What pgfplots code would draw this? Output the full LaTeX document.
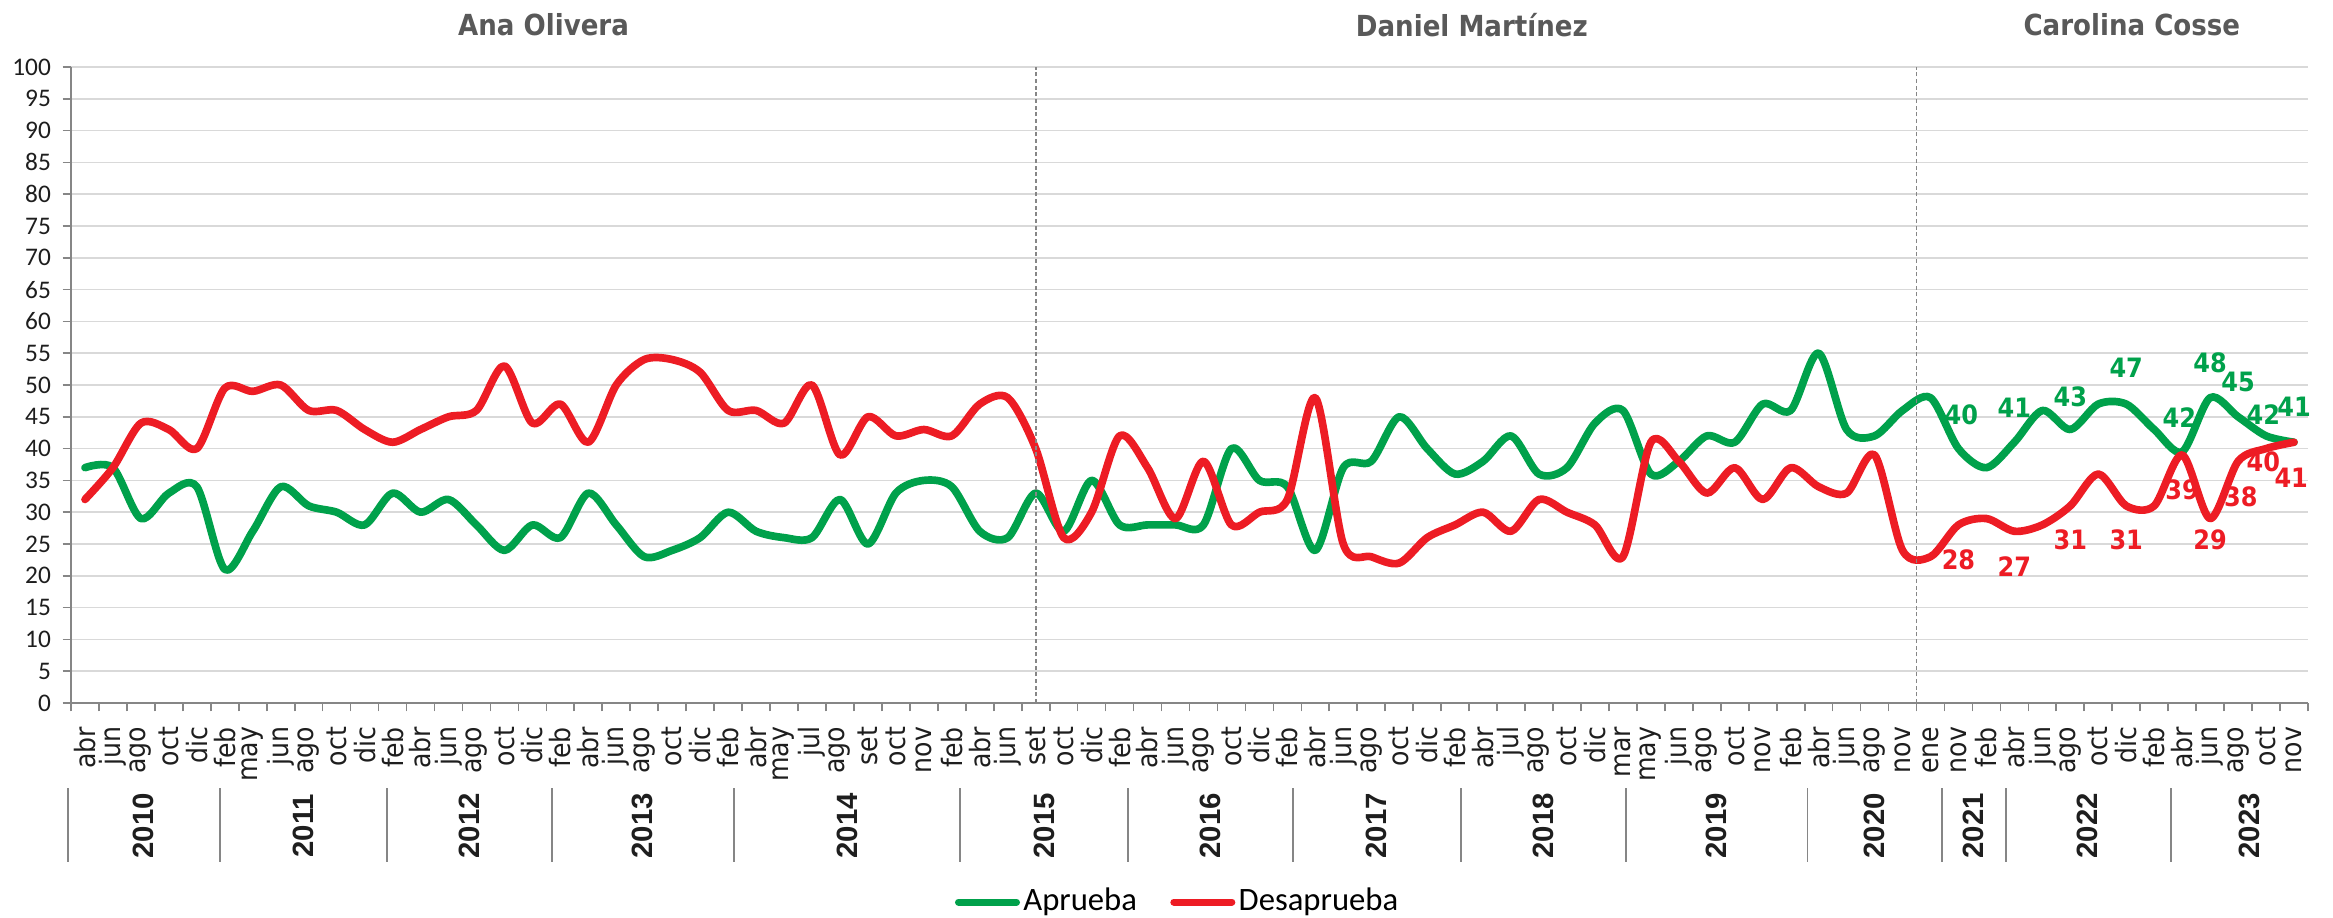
\documentclass[border=0pt]{standalone}
\usepackage{pgfplots}
\usepackage{pgfplotstable}
\pgfplotsset{compat=1.18}
\usepackage{fontspec}
\setmainfont{DejaVu Sans}
\newfontfamily\carlito{Carlito}
\newfontfamily\libsans{Liberation Sans}
\newfontfamily\tah[FakeStretch=0.9]{DejaVu Sans}
\definecolor{gr}{RGB}{0,161,75}
\definecolor{rd}{RGB}{237,28,36}
\definecolor{txt}{RGB}{30,30,30}
\definecolor{ttl}{RGB}{89,89,89}
\definecolor{gridc}{RGB}{217,217,217}
\definecolor{axl}{RGB}{134,134,134}

\pgfplotstableread{
x g r
0 37 32
1 37 37
2 29 44
3 33 43
4 34 40
5 21 49.5
6 27 49
7 34 50
8 31 46
9 30 46
10 28 43
11 33 41
12 30 43
13 32 45
14 28 46
15 24 53
16 28 44
17 26 47
18 33 41
19 28 50
20 23 54
21 24 54
22 26 52
23 30 46
24 27 46
25 26 44
26 26 50
27 32 39
28 25 45
29 33 42
30 35 43
31 34 42
32 27 47
33 26 48
34 33 40
35 27 26
36 35 30
37 28 42
38 28 37
39 28 29
40 28 38
41 40 28
42 35 30
43 34 32
44 24 48
45 37 25
46 38 23
47 45 22
48 40 26
49 36 28
50 38 30
51 42 27
52 36 32
53 37 30
54 44 28
55 46 23
56 36 41
57 38 38
58 42 33
59 41 37
60 47 32
61 46 37
62 55 34
63 43 33
64 42 39
65 46 24
66 48 23
67 40 28
68 37 29
69 41 27
70 46 28
71 43 31
72 47 36
73 47 31
74 43 31
75 39.5 39
76 48 29
77 45 38
78 42 40
79 41 41
}\datatable

\pgfplotstableread{
x y t
67.1 45.3 40
69.0 46.4 41
71.0 48.2 43
73.0 52.7 47
74.9 44.8 42
76.0 53.5 48
77.0 50.5 45
77.9 45.3 42
79.0 46.5 41
}\glab

\pgfplotstableread{
x y t
67.0 22.5 28
69.0 21.4 27
71.0 25.6 31
73.0 25.6 31
75.0 33.5 39
76.0 25.6 29
77.1 32.4 38
77.9 38.0 40
78.9 35.4 41
}\rlab

\begin{document}
\begin{tikzpicture}
\useasboundingbox (-21.3pt,-64.5pt) rectangle (678.6pt,210.9pt);
\begin{axis}[
  at={(0,0)}, anchor=south west,
  scale only axis, width=671.1pt, height=190.8pt,
  xmin=-0.5, xmax=79.5, ymin=0, ymax=100,
  clip=false,
  axis x line*=bottom, axis y line*=left,
  axis line style={draw=axl, line width=0.5pt, -},
  tick style={draw=axl, line width=0.5pt},
  tick align=outside, major tick length=2.5pt,
  ytick={0,5,...,100},
  ymajorgrids, grid style={draw=gridc, line width=0.5pt},
  yticklabel style={font=\carlito\fontsize{7.6}{8}\selectfont, text=txt},
  /pgf/number format/assume math mode=true,
  xtick={-0.5,0.5,...,79.5},
  x tick label as interval,
  xticklabels={abr,jun,ago,oct,dic,
    feb,may,jun,ago,oct,dic,
    feb,abr,jun,ago,oct,dic,
    feb,abr,jun,ago,oct,dic,
    feb,abr,may,jul,ago,set,oct,nov,
    feb,abr,jun,set,oct,dic,
    feb,abr,jun,ago,oct,dic,
    feb,abr,jun,ago,oct,dic,
    feb,abr,jul,ago,oct,dic,
    mar,may,jun,ago,oct,nov,
    feb,abr,jun,ago,nov,
    ene,nov,
    feb,abr,jun,ago,oct,dic,
    feb,abr,jun,ago,oct,nov},
  xticklabel shift=4.5pt,
  xticklabel style={rotate=90, anchor=east, font=\tah\fontsize{8.4}{9}\selectfont, text=txt, inner sep=0pt},
  legend style={at={(0.495,-0.313)}, anchor=center, draw=none, fill=none,
    legend columns=2, font=\carlito\fontsize{9.8}{11}\selectfont,
    /tikz/every even column/.append style={column sep=9pt},
    nodes={inner sep=1pt, text=black}},
  legend image code/.code={\draw[#1, line width=2.1pt, line cap=round] (0pt,0pt) -- (17.4pt,0pt);},
]
\addplot[gr, line width=2.3pt, smooth, tension=0.5, line join=round, line cap=round] table[x=x,y=g]{\datatable};
\addplot[rd, line width=2.3pt, smooth, tension=0.5, line join=round, line cap=round] table[x=x,y=r]{\datatable};
\legend{Aprueba,Desaprueba}

\addplot[forget plot, only marks, mark=none, point meta=explicit symbolic, nodes near coords,
  every node near coord/.append style={anchor=center, font=\tah\bfseries\fontsize{8}{9}\selectfont, text=gr}]
  table[x=x,y=y,meta=t]{\glab};
\addplot[forget plot, only marks, mark=none, point meta=explicit symbolic, nodes near coords,
  every node near coord/.append style={anchor=center, font=\tah\bfseries\fontsize{8}{9}\selectfont, text=rd}]
  table[x=x,y=y,meta=t]{\rlab};

\draw[axl, dashed, dash pattern=on 1.2pt off 0.8pt, line width=0.5pt] (axis cs:34,0) -- (axis cs:34,100);
\draw[axl, dashed, dash pattern=on 1.2pt off 0.8pt, line width=0.5pt] (axis cs:65.5,0) -- (axis cs:65.5,100);

\pgfplotsinvokeforeach{-0.6,4.83,10.8,16.7,23.2,31.3,37.3,43.2,49.2,55.1,61.6,66.4,68.7,74.6}{
  \draw[axl, line width=0.5pt] (axis cs:#1,-13.4) -- (axis cs:#1,-25);
}
\tikzset{yr/.style={rotate=90, font=\libsans\bfseries\fontsize{8.8}{9}\selectfont, text=txt}}
\node[yr] at (axis cs:2.1,-19.3) {2010};
\node[yr] at (axis cs:7.8,-19.3) {2011};
\node[yr] at (axis cs:13.75,-19.3) {2012};
\node[yr] at (axis cs:19.95,-19.3) {2013};
\node[yr] at (axis cs:27.25,-19.3) {2014};
\node[yr] at (axis cs:34.3,-19.3) {2015};
\node[yr] at (axis cs:40.25,-19.3) {2016};
\node[yr] at (axis cs:46.2,-19.3) {2017};
\node[yr] at (axis cs:52.15,-19.3) {2018};
\node[yr] at (axis cs:58.35,-19.3) {2019};
\node[yr] at (axis cs:64.0,-19.3) {2020};
\node[yr] at (axis cs:67.55,-19.3) {2021};
\node[yr] at (axis cs:71.6,-19.3) {2022};
\node[yr] at (axis cs:77.4,-19.3) {2023};

\tikzset{ttl/.style={font=\tah\bfseries\fontsize{8.7}{10}\selectfont, text=ttl}}
\node[ttl] at (axis cs:16.4,106.6) {Ana Olivera};
\node[ttl] at (axis cs:49.6,106.6) {Daniel Martínez};
\node[ttl] at (axis cs:73.2,106.6) {Carolina Cosse};
\end{axis}
\end{tikzpicture}
\end{document}
